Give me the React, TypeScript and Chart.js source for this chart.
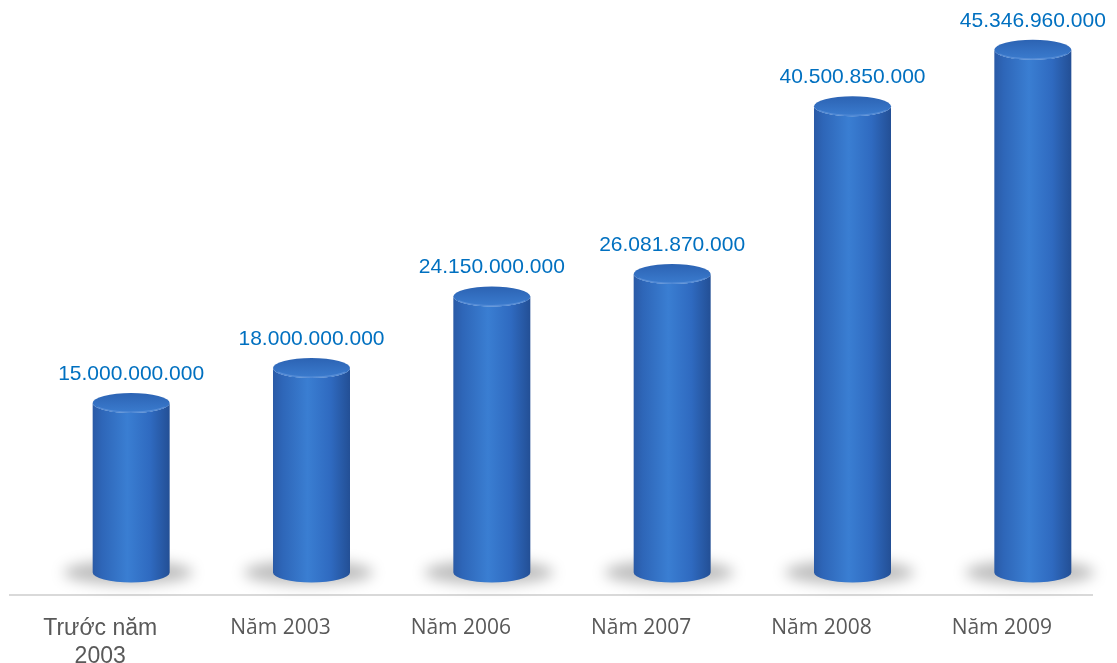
import React, { useEffect, useRef } from 'react';
import { Chart, registerables } from 'chart.js';

Chart.register(...registerables);

const categories: (string | string[])[] = [
  ['Trước năm', '2003'],
  'Năm 2003',
  'Năm 2006',
  'Năm 2007',
  'Năm 2008',
  'Năm 2009',
];
const values = [15000000000, 18000000000, 24150000000, 26081870000, 40500850000, 45346960000];

const DEPTH_SHIFT = 31; // cylinders sit right of the tick, like Excel's 3D view
const RY = 10;

const fmt = (v: number) => String(v).replace(/\B(?=(\d{3})+(?!\d))/g, '.');

const cylinderPlugin = {
  id: 'cylinders',
  afterDatasetsDraw(chart: any) {
    const ctx: CanvasRenderingContext2D = chart.ctx;
    const meta = chart.getDatasetMeta(0);
    meta.data.forEach((bar: any, i: number) => {
      const { x, y, base, width } = bar.getProps(['x', 'y', 'base', 'width'], true);
      const cx = x + DEPTH_SHIFT;
      const rx = width / 2;
      const left = cx - rx;
      const right = cx + rx;
      const botY = base - 5;

      // soft floor shadow
      ctx.save();
      ctx.filter = 'blur(7px)';
      ctx.fillStyle = 'rgba(0,0,0,0.26)';
      ctx.beginPath();
      ctx.ellipse(cx - 3, botY, rx + 26, RY + 2, 0, 0, Math.PI * 2);
      ctx.fill();
      ctx.restore();

      // body
      ctx.save();
      const g = ctx.createLinearGradient(left, 0, right, 0);
      g.addColorStop(0, '#2A5AA6');
      g.addColorStop(0.12, '#2E66B8');
      g.addColorStop(0.45, '#3A7ED2');
      g.addColorStop(0.75, '#2F6AC0');
      g.addColorStop(1, '#234F95');
      ctx.fillStyle = g;
      ctx.beginPath();
      ctx.moveTo(left, y);
      ctx.lineTo(left, botY);
      ctx.ellipse(cx, botY, rx, RY, 0, Math.PI, 0, true);
      ctx.lineTo(right, y);
      ctx.ellipse(cx, y, rx, RY, 0, 0, Math.PI, false);
      ctx.closePath();
      ctx.fill();

      // top face
      const t = ctx.createLinearGradient(0, y - RY, 0, y + RY);
      t.addColorStop(0, '#2C63B3');
      t.addColorStop(0.6, '#3572C4');
      t.addColorStop(1, '#3B7CCE');
      ctx.fillStyle = t;
      ctx.beginPath();
      ctx.ellipse(cx, y, rx, RY, 0, 0, Math.PI * 2);
      ctx.fill();
      ctx.strokeStyle = 'rgba(100,150,220,0.7)';
      ctx.lineWidth = 1.2;
      ctx.beginPath();
      ctx.ellipse(cx, y, rx - 1, RY - 1, 0, 0.15 * Math.PI, 0.85 * Math.PI, false);
      ctx.stroke();
      ctx.restore();

      // value label
      ctx.save();
      ctx.fillStyle = '#0070C0';
      ctx.font = '21px "Liberation Sans", Arial, sans-serif';
      ctx.textAlign = 'center';
      ctx.textBaseline = 'middle';
      ctx.fillText(fmt(values[i]), cx, y - RY - 19);
      ctx.restore();
    });
  },
};

const App: React.FC = () => {
  const canvasRef = useRef<HTMLCanvasElement>(null);

  useEffect(() => {
    document.body.style.margin = '0';
    if (!canvasRef.current) return;
    const chart = new Chart(canvasRef.current, {
      type: 'bar',
      data: {
        labels: categories,
        datasets: [
          {
            data: values,
            backgroundColor: 'rgba(0,0,0,0)',
            borderWidth: 0,
            barPercentage: 0.427,
            categoryPercentage: 1,
          },
        ],
      },
      options: {
        responsive: true,
        maintainAspectRatio: false,
        animation: false,
        layout: { padding: { left: 10, right: 25, top: 5, bottom: 0 } },
        plugins: {
          legend: { display: false },
          tooltip: { enabled: false },
        },
        scales: {
          x: {
            grid: { display: false, drawTicks: false, tickLength: 0 },
            border: { display: true, color: '#D9D9D9', width: 2 },
            ticks: {
              color: '#595959',
              padding: 20,
              autoSkip: false,
              maxRotation: 0,
              font: (c: any) =>
                c.index === 0
                  ? { family: '"Liberation Sans", Arial, sans-serif', size: 23, lineHeight: 1.22 }
                  : { family: '"Open Sans", sans-serif', size: 21, lineHeight: 1.2 },
            },
            afterFit: (scale: any) => {
              scale.height = 68;
            },
          },
          y: {
            display: false,
            min: -1500000000,
            max: 49200000000,
          },
        },
      },
      plugins: [cylinderPlugin],
    });
    return () => chart.destroy();
  }, []);

  return (
    <div style={{ position: 'fixed', left: 0, top: 0, width: 1117, height: 663, background: '#fff' }}>
      <canvas ref={canvasRef}></canvas>
    </div>
  );
};

export default App;
